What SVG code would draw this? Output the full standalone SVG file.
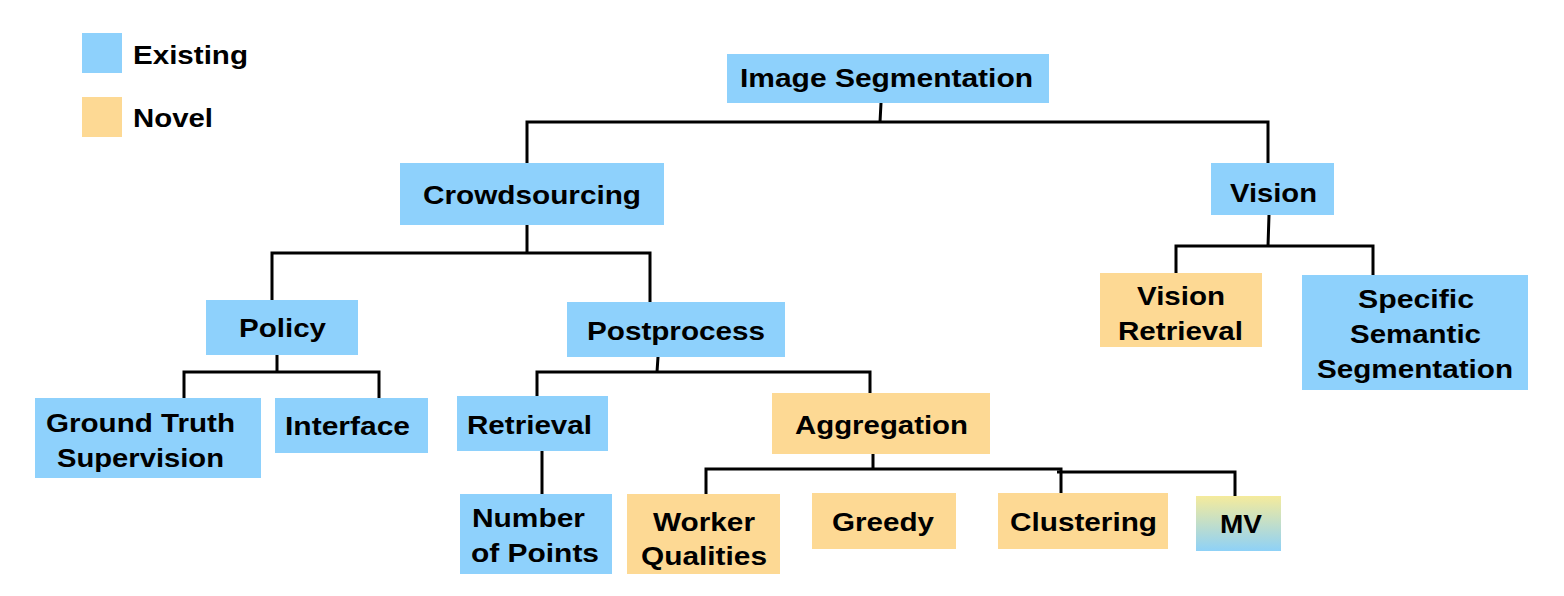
<svg xmlns="http://www.w3.org/2000/svg" width="1564" height="596" viewBox="0 0 1564 596">
<style>
.ex{fill:#8ed1fc}
.nv{fill:#fdd994}
text{font-family:"Liberation Sans",Arial,sans-serif;font-weight:bold;font-size:25px;fill:#000}
.ln{fill:none;stroke:#000;stroke-width:3;stroke-linecap:butt;stroke-linejoin:miter}
</style>
<defs>
<linearGradient id="mvg" x1="0" y1="0" x2="0" y2="1">
<stop offset="0" stop-color="#f5eb9c"/>
<stop offset="1" stop-color="#8ed1f7"/>
</linearGradient>
</defs>
<rect width="1564" height="596" fill="#fff"/>
<g id="legend">
<rect class="ex" x="82" y="33" width="40" height="40"/>
<text x="133" y="64" textLength="115" lengthAdjust="spacingAndGlyphs">Existing</text>
<rect class="nv" x="82" y="97" width="40" height="40"/>
<text x="133" y="127" textLength="80" lengthAdjust="spacingAndGlyphs">Novel</text>
</g>
<g id="connectors">
<path class="ln" d="M881 103 L880 122 M527 163 V122 H1268 V163"/>
<path class="ln" d="M527 225 V253 M272 300 V253 H650 V302"/>
<path class="ln" d="M1269 215 L1268 246 M1176 273 V246 H1373 V275"/>
<path class="ln" d="M277 354 V372 M184 398 V372 H379 V398"/>
<path class="ln" d="M658 357 L657 372 M537 396 V372 H870 V393"/>
<path class="ln" d="M542 451 V494"/>
<path class="ln" d="M873 454 V469 M706 494 V469 H1061 V493"/>
<path class="ln" d="M1057 472 H1235 V503"/>
</g>
<g id="n-image-segmentation">
<rect class="ex" x="727" y="54" width="322" height="49"/>
<text x="740" y="87" textLength="293" lengthAdjust="spacingAndGlyphs">Image Segmentation</text>
</g>
<g id="n-crowdsourcing">
<rect class="ex" x="400" y="163" width="264" height="62"/>
<text x="423" y="204" textLength="218" lengthAdjust="spacingAndGlyphs">Crowdsourcing</text>
</g>
<g id="n-vision">
<rect class="ex" x="1211" y="163" width="123" height="52"/>
<text x="1230" y="202" textLength="87" lengthAdjust="spacingAndGlyphs">Vision</text>
</g>
<g id="n-policy">
<rect class="ex" x="206" y="300" width="152" height="55"/>
<text x="239" y="337" textLength="87" lengthAdjust="spacingAndGlyphs">Policy</text>
</g>
<g id="n-postprocess">
<rect class="ex" x="567" y="302" width="218" height="55"/>
<text x="587" y="340" textLength="178" lengthAdjust="spacingAndGlyphs">Postprocess</text>
</g>
<g id="n-vision-retrieval">
<rect class="nv" x="1100" y="273" width="162" height="74"/>
<text x="1137" y="305" textLength="88" lengthAdjust="spacingAndGlyphs">Vision</text>
<text x="1118" y="340" textLength="125" lengthAdjust="spacingAndGlyphs">Retrieval</text>
</g>
<g id="n-specific-semantic-segmentation">
<rect class="ex" x="1302" y="275" width="226" height="115"/>
<text x="1358" y="308" textLength="116" lengthAdjust="spacingAndGlyphs">Specific</text>
<text x="1350" y="343" textLength="131" lengthAdjust="spacingAndGlyphs">Semantic</text>
<text x="1317" y="378" textLength="196" lengthAdjust="spacingAndGlyphs">Segmentation</text>
</g>
<g id="n-ground-truth-supervision">
<rect class="ex" x="35" y="398" width="226" height="80"/>
<text x="46" y="432" textLength="189" lengthAdjust="spacingAndGlyphs">Ground Truth</text>
<text x="57" y="467" textLength="167" lengthAdjust="spacingAndGlyphs">Supervision</text>
</g>
<g id="n-interface">
<rect class="ex" x="275" y="398" width="153" height="55"/>
<text x="285" y="435" textLength="125" lengthAdjust="spacingAndGlyphs">Interface</text>
</g>
<g id="n-retrieval">
<rect class="ex" x="457" y="396" width="151" height="55"/>
<text x="467" y="434" textLength="125" lengthAdjust="spacingAndGlyphs">Retrieval</text>
</g>
<g id="n-aggregation">
<rect class="nv" x="772" y="393" width="218" height="61"/>
<text x="795" y="434" textLength="173" lengthAdjust="spacingAndGlyphs">Aggregation</text>
</g>
<g id="n-number-of-points">
<rect class="ex" x="460" y="494" width="152" height="80"/>
<text x="472" y="527" textLength="113" lengthAdjust="spacingAndGlyphs">Number</text>
<text x="471" y="562" textLength="128" lengthAdjust="spacingAndGlyphs">of Points</text>
</g>
<g id="n-worker-qualities">
<rect class="nv" x="627" y="494" width="153" height="80"/>
<text x="653" y="531" textLength="102" lengthAdjust="spacingAndGlyphs">Worker</text>
<text x="641" y="565" textLength="126" lengthAdjust="spacingAndGlyphs">Qualities</text>
</g>
<g id="n-greedy">
<rect class="nv" x="812" y="493" width="144" height="56"/>
<text x="832" y="531" textLength="102" lengthAdjust="spacingAndGlyphs">Greedy</text>
</g>
<g id="n-clustering">
<rect class="nv" x="998" y="493" width="170" height="56"/>
<text x="1010" y="531" textLength="147" lengthAdjust="spacingAndGlyphs">Clustering</text>
</g>
<g id="n-mv">
<rect x="1196" y="496" width="85" height="55" fill="url(#mvg)"/>
<text x="1220" y="533" textLength="42" lengthAdjust="spacingAndGlyphs">MV</text>
</g>
</svg>
